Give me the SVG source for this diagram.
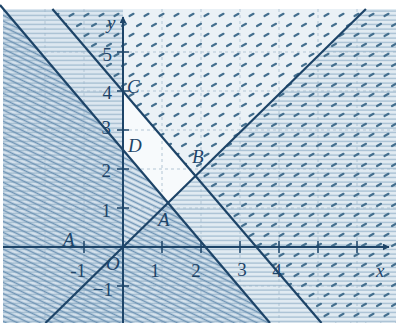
<svg xmlns="http://www.w3.org/2000/svg" width="396" height="323" viewBox="0 0 396 323">
<style>
.lbl{font-family:"Liberation Serif","DejaVu Serif",serif;font-size:19px;fill:#1d4468}
.it{font-style:italic}
.ax{stroke:#1d4468;stroke-width:2;fill:none}
.ln{stroke:#1d4468;stroke-width:2.2;fill:none}
.tk{stroke:#1d4468;stroke-width:1.5}
.grid{stroke:#b3c6d5;stroke-width:1;stroke-dasharray:3 3;fill:none}
</style>
<defs>
<pattern id="pH" width="10" height="4.5" patternUnits="userSpaceOnUse">
<line x1="0" y1="2" x2="10" y2="2" stroke="#97b4ca" stroke-width="1.1"/>
</pattern>
<pattern id="pD" width="12" height="5" patternUnits="userSpaceOnUse" patternTransform="rotate(26)">
<line x1="0" y1="2.5" x2="12" y2="2.5" stroke="#6f94b4" stroke-width="1.6"/>
</pattern>
<pattern id="pS" width="15" height="20" patternUnits="userSpaceOnUse">
<line x1="2" y1="6" x2="6" y2="3.8" stroke="#45708f" stroke-width="2.2" stroke-linecap="round"/>
<line x1="9.5" y1="16" x2="13.5" y2="13.8" stroke="#45708f" stroke-width="2.2" stroke-linecap="round"/>
</pattern>
<marker id="arr" viewBox="0 0 10 10" refX="9" refY="5" markerWidth="7" markerHeight="7" orient="auto" markerUnits="userSpaceOnUse">
<path d="M0,0 L10,5 L0,10 Z" fill="#1d4468"/>
</marker>
</defs>
<rect x="0" y="0" width="396" height="323" fill="#ffffff"/>
<rect x="3" y="9" width="393" height="314" fill="#eaf1f6"/>
<g id="shading">
<polygon points="123,150 123,91 197,178 170,204" fill="#f7fafc"/>
<rect x="3" y="9" width="120" height="314" fill="#d2e1ec" opacity="0.6"/>
<polygon points="45.4,323 365.9,9 396,9 396,323" fill="#dbe7f0" opacity="0.6"/>
<polygon points="3,9 3.4,9 270,323 3,323" fill="#cddde9" opacity="0.5"/>
</g>
<g id="grid">
<path class="grid" d="M162,9V323M201,9V323M240,9V323M279,9V323M318,9V323M357,9V323M84,9V323M45,9V323M3,208H396M3,169H396M3,130H396M3,91H396M3,52H396M3,286H396"/>
</g>
<g id="hatching">
<rect x="3" y="9" width="120" height="314" fill="url(#pH)"/>
<polygon points="45.4,323 365.9,9 396,9 396,323" fill="url(#pH)"/>
<polygon points="3,9 3.4,9 270,323 3,323" fill="url(#pD)"/>
<polygon points="52.4,9 396,9 396,323 321.5,323" fill="url(#pS)"/>
</g>
<g id="connectors">
<line class="ax" x1="3" y1="247" x2="389" y2="247" marker-end="url(#arr)"/>
<line class="ax" x1="123" y1="323" x2="123" y2="17" marker-end="url(#arr)"/>
<line class="ln" x1="0" y1="5" x2="270" y2="323"/>
<line class="ln" x1="52.4" y1="9" x2="321.5" y2="323"/>
<line class="ln" x1="45.4" y1="323" x2="365.9" y2="9"/>
<path class="tk" d="M84,241V253M162,241V253M201,241V253M240,241V253M279,241V253M318,241V253M357,241V253M117,286H129M117,208H129M117,169H129M117,130H129M117,91H129M117,52H129"/>
</g>
<g id="labels">
<text class="lbl it" x="107" y="29">y</text>
<text class="lbl it" x="376" y="277">x</text>
<text class="lbl it" x="127" y="93">C</text>
<text class="lbl it" x="128" y="152">D</text>
<text class="lbl it" x="192" y="163">B</text>
<text class="lbl it" x="158" y="226">A</text>
<text class="lbl it" x="63" y="246">A</text>
<text class="lbl it" x="106" y="270">O</text>
<text class="lbl" x="86" y="277" text-anchor="end">-1</text>
<text class="lbl" x="155" y="277" text-anchor="middle">1</text>
<text class="lbl" x="196" y="277" text-anchor="middle">2</text>
<text class="lbl" x="242" y="276" text-anchor="middle">3</text>
<text class="lbl" x="277" y="277" text-anchor="middle">4</text>
<text class="lbl" x="111" y="217" text-anchor="end">1</text>
<text class="lbl" x="111" y="177" text-anchor="end">2</text>
<text class="lbl" x="111" y="134" text-anchor="end">3</text>
<text class="lbl" x="112" y="99" text-anchor="end">4</text>
<text class="lbl" x="112" y="61" text-anchor="end">5</text>
<text class="lbl" x="113" y="296" text-anchor="end">−1</text>
</g>
</svg>
